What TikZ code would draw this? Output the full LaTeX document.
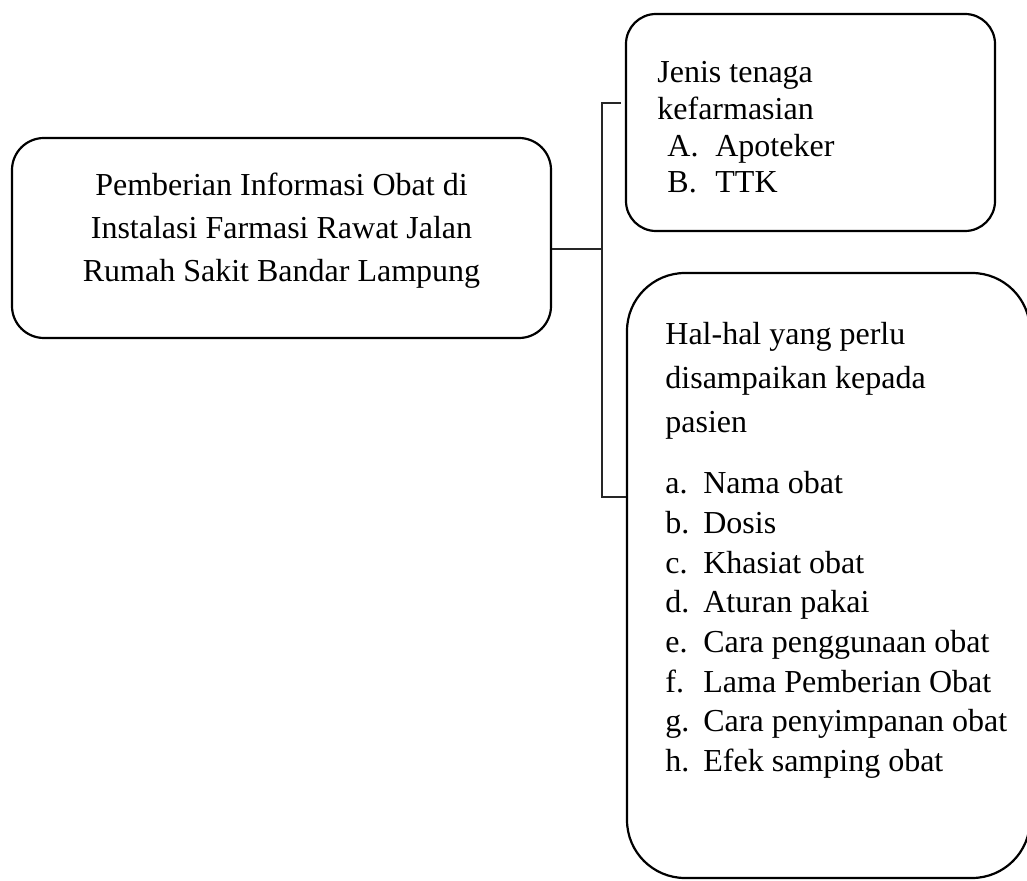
\documentclass[tikz,border=0pt]{standalone}
\usepackage{fontspec}
\setmainfont{Liberation Serif}
\usetikzlibrary{calc}

\tikzset{
  kotak/.style={draw, line width=1.1pt, inner sep=0pt},
  garis/.style={line width=0.6pt, black!85},
  teks/.style={inner sep=0pt, align=left, font=\fontsize{16}{19.85}\selectfont},
}

\begin{document}
\begin{tikzpicture}[x=0.5pt,y=-0.5pt]

          \useasboundingbox (0,0) rectangle (1027,881); %ukuran gambar

          \node[kotak, rounded corners=16pt, minimum width=269.5pt, minimum height=100pt] (utama) at (281.5,238) {}; %kotak utama
          \node[kotak, rounded corners=15pt, minimum width=184.5pt, minimum height=108.5pt] (jenis) at (810.5,122.5) {}; %kotak kanan atas
          \node[kotak, rounded corners=29pt, minimum width=201.5pt, minimum height=302.5pt] (hal) at (828.5,575.5) {}; %kotak kanan bawah

          \node[teks, align=center, font=\fontsize{16}{21.5}\selectfont] (utamaTeks) at (281.5,231)
                {Pemberian Informasi Obat di\\Instalasi Farmasi Rawat Jalan\\Rumah Sakit Bandar Lampung}; %isi kotak utama
          \node[teks, anchor=north west, font=\fontsize{16}{18.4}\selectfont] (jenisTeks) at (657,61)
                {Jenis tenaga\\kefarmasian\\\hspace*{5pt}\makebox[24pt][l]{A.}Apoteker\\\hspace*{5pt}\makebox[24pt][l]{B.}TTK}; %isi kanan atas
          \node[teks, anchor=north west, font=\fontsize{16}{22}\selectfont] (halTeks) at (665,322)
                {Hal-hal yang perlu\\disampaikan kepada\\pasien}; %judul kanan bawah
          \node[teks, anchor=north west] (daftar) at (665,471)
                {\makebox[19pt][l]{a.}Nama obat\\
                 \makebox[19pt][l]{b.}Dosis\\
                 \makebox[19pt][l]{c.}Khasiat obat\\
                 \makebox[19pt][l]{d.}Aturan pakai\\
                 \makebox[19pt][l]{e.}Cara penggunaan obat\\
                 \makebox[19pt][l]{f.}Lama Pemberian Obat\\
                 \makebox[19pt][l]{g.}Cara penyimpanan obat\\
                 \makebox[19pt][l]{h.}Efek samping obat}; %daftar

          \coordinate (cabangAtas) at (602,103); %ujung atas kurung
          \coordinate (cabangBawah) at (602,497); %ujung bawah kurung
          \coordinate (ujungAtas) at (621,103); %kait atas
          \coordinate (sambung) at ($(utama.east)+(0,11)$); %titik sambung kotak utama
          \draw[garis] (sambung) -- (sambung -| cabangAtas); %garis tengah
          \draw[garis] (ujungAtas) -- (cabangAtas) -- (cabangBawah) -- (cabangBawah -| hal.west); %kurung

        \end{tikzpicture}
\end{document}
